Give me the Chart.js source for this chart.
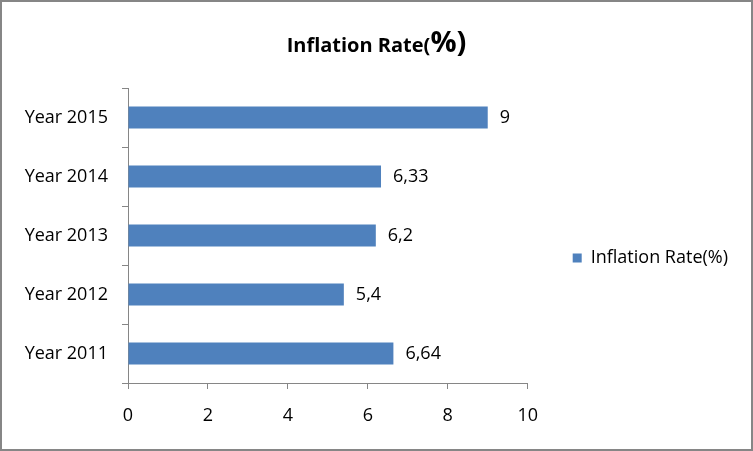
<!DOCTYPE html>
<html>
<head>
<meta charset="utf-8">
<script src="https://cdn.jsdelivr.net/npm/chart.js@4/dist/chart.umd.min.js"></script>
<style>
  html, body { margin: 0; padding: 0; background: #fff; }
  #wrap { position: relative; width: 753px; height: 451px; }
  #c { position: absolute; left: 0; top: 0; }
  #frame { position: absolute; left: 0; top: 0; width: 753px; height: 451px; box-sizing: border-box; border: 2px solid #868686; pointer-events: none; }
  #title { position: absolute; left: 0; top: 21px; width: 753px; text-align: center; font-family: "Open Sans", sans-serif; font-weight: bold; font-size: 20px; line-height: 40px; color: #000; white-space: nowrap; }
  #title span { font-size: 29px; line-height: 40px; }
</style>
</head>
<body>
<div id="wrap">
  <canvas id="c" width="753" height="451"></canvas>
  <div id="title">Inflation Rate(<span>%)</span></div>
  <div id="frame"></div>
</div>
<script>
const categories = ["Year 2011", "Year 2012", "Year 2013", "Year 2014", "Year 2015"];
const inflationRate = [6.64, 5.4, 6.2, 6.33, 9];
const seriesName = "Inflation Rate(%)";
const xTicks = [0, 2, 4, 6, 8, 10];

const FONT = "'Open Sans', sans-serif";
const AXIS = "#868686";

const valueLabels = {
  id: "valueLabels",
  afterDatasetsDraw(chart) {
    const ctx = chart.ctx;
    const meta = chart.getDatasetMeta(0);
    ctx.save();
    ctx.font = "18px " + FONT;
    ctx.fillStyle = "#000";
    ctx.textAlign = "left";
    ctx.textBaseline = "middle";
    meta.data.forEach((bar, i) => {
      const v = chart.data.datasets[0].data[i];
      ctx.fillText(String(v).replace(".", ","), bar.x + 12, bar.y);
    });
    ctx.restore();
  }
};

new Chart(document.getElementById("c"), {
  type: "bar",
  data: {
    labels: categories,
    datasets: [{
      label: seriesName,
      data: inflationRate,
      backgroundColor: "#4F81BD",
      borderWidth: 0,
      barPercentage: 0.375,
      categoryPercentage: 1
    }]
  },
  options: {
    indexAxis: "y",
    responsive: false,
    animation: false,
    layout: { padding: { top: 88, bottom: 23, left: 0, right: 15 } },
    scales: {
      x: {
        min: 0, max: 10,
        afterBuildTicks(scale) { scale.ticks = xTicks.map(v => ({ value: v })); },
        afterFit(scale) { scale.height = 45; },
        grid: { drawOnChartArea: false, tickLength: 6, color: AXIS, tickColor: AXIS },
        border: { color: AXIS, width: 1 },
        ticks: { color: "#000", font: { family: FONT, size: 18 }, padding: 16 }
      },
      y: {
        reverse: true,
        afterFit(scale) { scale.width = 128; },
        grid: { drawOnChartArea: false, tickLength: 6, color: AXIS, tickColor: AXIS },
        border: { color: AXIS, width: 1 },
        ticks: { color: "#000", font: { family: FONT, size: 18 }, padding: 14 }
      }
    },
    plugins: {
      title: { display: false },
      tooltip: { enabled: false },
      legend: {
        position: "right",
        align: "center",
        maxWidth: 400,
        labels: {
          boxWidth: 9, boxHeight: 9, padding: 45,
          color: "#000",
          font: { family: FONT, size: 18 }
        }
      }
    }
  },
  plugins: [valueLabels]
});
</script>
</body>
</html>
